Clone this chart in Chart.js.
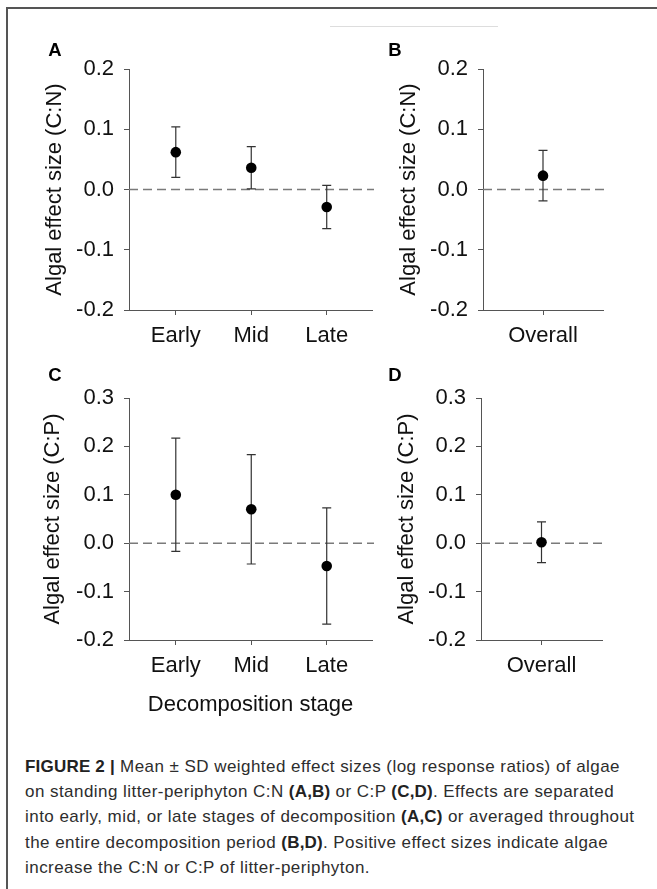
<!DOCTYPE html>
<html>
<head>
<meta charset="utf-8">
<script src="https://cdn.jsdelivr.net/npm/chart.js@4.4.0/dist/chart.umd.min.js"></script>
<style>
  html, body { margin: 0; padding: 0; background: #fff; }
  body { width: 657px; height: 889px; position: relative; overflow: hidden; font-family: "Liberation Sans", Arial, sans-serif; }
  canvas { position: absolute; }
  .frame-top { position: absolute; left: 7px; top: 7px; width: 650px; height: 0; border-top: 2px solid #555; }
  .frame-left { position: absolute; left: 6px; top: 7px; width: 0; height: 882px; border-left: 2px solid #555; }
  .faint { position: absolute; left: 330px; top: 26px; width: 168px; height: 0; border-top: 1px solid #ddd; }
  .letter { position: absolute; font-weight: bold; font-size: 18.5px; color: #000; transform: translate(-50%, -50%); }
  .caption { position: absolute; left: 25px; top: 754px; font-size: 17px; letter-spacing: 0.45px; line-height: 25.2px; color: #2d2d2d; white-space: nowrap; }
  .caption b { color: #222; letter-spacing: 0.2px; }
</style>
</head>
<body>
<div class="frame-top"></div>
<div class="frame-left"></div>
<div class="faint"></div>

<canvas id="panelA"></canvas>
<canvas id="panelB"></canvas>
<canvas id="panelC"></canvas>
<canvas id="panelD"></canvas>

<div class="letter" style="left:55px;top:50px">A</div>
<div class="letter" style="left:395px;top:50px">B</div>
<div class="letter" style="left:55px;top:375px">C</div>
<div class="letter" style="left:395px;top:375px">D</div>

<div class="caption">
<b>FIGURE 2 |</b> Mean ± SD weighted effect sizes (log response ratios) of algae<br>
on standing litter-periphyton C:N <b>(A,B)</b> or C:P <b>(C,D)</b>. Effects are separated<br>
into early, mid, or late stages of decomposition <b>(A,C)</b> or averaged throughout<br>
the entire decomposition period <b>(B,D)</b>. Positive effect sizes indicate algae<br>
increase the C:N or C:P of litter-periphyton.
</div>

<script>
// categories
const stages = ['Early', 'Mid', 'Late'];
const overall = ['Overall'];

// y tick labels
const ticksCN = [-0.2, -0.1, 0.0, 0.1, 0.2];
const ticksCP = [-0.2, -0.1, 0.0, 0.1, 0.2, 0.3];

// C:N effect sizes (mean, SD)
const cnStageMean = [0.062, 0.036, -0.029];
const cnStageSd = [0.042, 0.035, 0.036];
const cnOverallMean = [0.023];
const cnOverallSd = [0.042];

// C:P effect sizes (mean, SD)
const cpStageMean = [0.100, 0.070, -0.047];
const cpStageSd = [0.117, 0.113, 0.120];
const cpOverallMean = [0.002];
const cpOverallSd = [0.042];

const FONT = '"Liberation Sans", Arial, sans-serif';
const AXIS_COLOR = '#555';

// dashed zero line + error bars, drawn under the points
const errorBarPlugin = {
    id: 'errorBars',
    beforeDatasetsDraw(chart, args, opts) {
        const { ctx, chartArea, scales } = chart;
        const x = scales.x, y = scales.y;
        const y0 = y.getPixelForValue(0);
        ctx.save();
        ctx.strokeStyle = '#7a7a7a';
        ctx.lineWidth = 1.5;
        ctx.setLineDash([9, 5]);
        ctx.beginPath();
        ctx.moveTo(chartArea.left, y0);
        ctx.lineTo(chartArea.right + 2, y0);
        ctx.stroke();
        ctx.setLineDash([]);

        const data = chart.data.datasets[0].data;
        ctx.strokeStyle = '#333';
        ctx.lineWidth = 1.2;
        data.forEach((p, i) => {
            const sd = opts.sd[i];
            const px = x.getPixelForValue(p.x);
            const top = y.getPixelForValue(p.y + sd);
            const bot = y.getPixelForValue(p.y - sd);
            ctx.beginPath();
            ctx.moveTo(px, top); ctx.lineTo(px, bot);
            ctx.moveTo(px - 4.5, top); ctx.lineTo(px + 4.5, top);
            ctx.moveTo(px - 4.5, bot); ctx.lineTo(px + 4.5, bot);
            ctx.stroke();
        });
        ctx.restore();
    }
};

// box = canvas position on the page, area = plot area on the page
function makePanel(id, box, area, cats, means, sds, yTicks, yTitle, yTitlePad, xTitle) {
    const canvas = document.getElementById(id);
    canvas.width = box.w;
    canvas.height = box.h;
    canvas.style.left = box.x + 'px';
    canvas.style.top = box.y + 'px';

    const yWidth = area.l - box.x;
    const xHeight = box.y + box.h - area.b;

    // linear x so the category positions can be placed like the original
    const xMin = cats.length > 1 ? -0.62 : -0.5;
    const xMax = cats.length > 1 ? 2.6 : 0.5;

    return new Chart(canvas.getContext('2d'), {
        type: 'scatter',
        data: {
            datasets: [{
                data: means.map((m, i) => ({ x: i, y: m })),
                pointRadius: 5.3,
                pointHoverRadius: 5.3,
                pointBackgroundColor: '#000',
                pointBorderColor: '#000',
                pointBorderWidth: 0,
                showLine: false
            }]
        },
        options: {
            responsive: false,
            animation: false,
            events: [],
            layout: { padding: { left: 0, top: area.t - box.y, right: box.x + box.w - area.r, bottom: 0 } },
            plugins: {
                legend: { display: false },
                tooltip: { enabled: false },
                errorBars: { sd: sds }
            },
            scales: {
                x: {
                    type: 'linear',
                    min: xMin,
                    max: xMax,
                    afterBuildTicks: (s) => { s.ticks = cats.map((c, i) => ({ value: i })); },
                    afterFit: (s) => { s.height = xHeight; },
                    grid: { display: true, drawOnChartArea: false, drawTicks: true, tickLength: 5, color: AXIS_COLOR, tickWidth: 1 },
                    border: { display: true, color: AXIS_COLOR, width: 1 },
                    ticks: {
                        autoSkip: false, maxRotation: 0, padding: 8,
                        color: '#111', font: { family: FONT, size: 22 },
                        callback: (v) => cats[v]
                    },
                    title: {
                        display: !!xTitle, text: xTitle || '', color: '#111',
                        font: { family: FONT, size: 22 }, padding: { top: 0, bottom: 8 }
                    }
                },
                y: {
                    type: 'linear',
                    min: yTicks[0],
                    max: yTicks[yTicks.length - 1],
                    afterBuildTicks: (s) => { s.ticks = yTicks.map(v => ({ value: v })); },
                    afterFit: (s) => { s.width = yWidth; },
                    grid: { display: true, drawOnChartArea: false, drawTicks: true, tickLength: 5, color: AXIS_COLOR, tickWidth: 1 },
                    border: { display: true, color: AXIS_COLOR, width: 1 },
                    ticks: {
                        padding: 10, color: '#111', font: { family: FONT, size: 22 },
                        callback: (v) => (Math.abs(v) < 1e-9 ? 0 : v).toFixed(1)
                    },
                    title: {
                        display: true, text: yTitle, color: '#111',
                        font: { family: FONT, size: 22 }, padding: { top: yTitlePad, bottom: 0 }
                    }
                }
            }
        },
        plugins: [errorBarPlugin]
    });
}

makePanel('panelA', { x: 8, y: 36, w: 372, h: 320 }, { l: 129, r: 372, t: 69, b: 310 },
    stages, cnStageMean, cnStageSd, ticksCN, 'Algal effect size (C:N)', 34, null);
makePanel('panelB', { x: 380, y: 36, w: 277, h: 320 }, { l: 483, r: 603, t: 69, b: 310 },
    overall, cnOverallMean, cnOverallSd, ticksCN, 'Algal effect size (C:N)', 16, null);
makePanel('panelC', { x: 8, y: 356, w: 372, h: 370 }, { l: 129, r: 372, t: 398, b: 640 },
    stages, cpStageMean, cpStageSd, ticksCP, 'Algal effect size (C:P)', 32, 'Decomposition stage');
makePanel('panelD', { x: 380, y: 356, w: 277, h: 370 }, { l: 481, r: 602, t: 398, b: 640 },
    overall, cpOverallMean, cpOverallSd, ticksCP, 'Algal effect size (C:P)', 14, null);
</script>
</body>
</html>
